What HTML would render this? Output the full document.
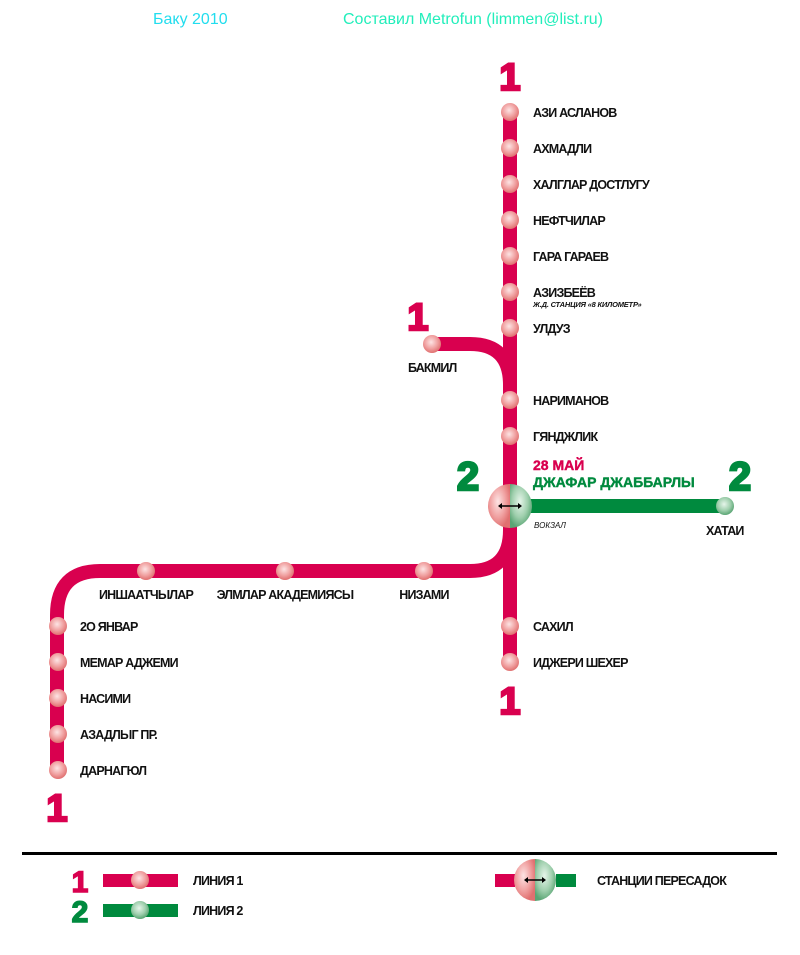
<!DOCTYPE html>
<html><head><meta charset="utf-8"><style>
html,body{margin:0;padding:0;background:#fff;}
svg text{font-family:"Liberation Sans",sans-serif;}
.s{font-size:12.5px;font-weight:bold;fill:#111;letter-spacing:-0.8px;}
</style></head><body>
<svg width="800" height="950" viewBox="0 0 800 950" xmlns="http://www.w3.org/2000/svg">
<defs>
<radialGradient id="rg" cx="0.45" cy="0.4" r="0.6">
<stop offset="0" stop-color="#fde4e4"/><stop offset="0.6" stop-color="#f0a0a0"/><stop offset="1" stop-color="#e07070"/>
</radialGradient>
<radialGradient id="gg" cx="0.45" cy="0.4" r="0.6">
<stop offset="0" stop-color="#e6f5ea"/><stop offset="0.6" stop-color="#9fcfad"/><stop offset="1" stop-color="#5aa574"/>
</radialGradient>
</defs>
<text x="153" y="24" font-size="16" fill="#22ddee">Баку 2010</text>
<text x="343" y="24" font-size="16" fill="#22eebb">Составил Metrofun (limmen@list.ru)</text>

<g fill="none" stroke="#d9004f" stroke-width="14">
<path d="M510 111 V662"/>
<path d="M432 344 H470 Q510 344 510 385 V400"/>
<path d="M510 530 Q510 571 470 571 H100 Q57 571 57 615 V770"/>
</g>
<path d="M520 506 H725" stroke="#008a3e" stroke-width="14"/>

<g>
<circle cx="510" cy="112" r="9" fill="url(#rg)"/>
<circle cx="510" cy="148" r="9" fill="url(#rg)"/>
<circle cx="510" cy="184" r="9" fill="url(#rg)"/>
<circle cx="510" cy="220" r="9" fill="url(#rg)"/>
<circle cx="510" cy="256" r="9" fill="url(#rg)"/>
<circle cx="510" cy="292" r="9" fill="url(#rg)"/>
<circle cx="510" cy="328" r="9" fill="url(#rg)"/>
<circle cx="510" cy="400" r="9" fill="url(#rg)"/>
<circle cx="510" cy="436" r="9" fill="url(#rg)"/>
<circle cx="510" cy="626" r="9" fill="url(#rg)"/>
<circle cx="510" cy="662" r="9" fill="url(#rg)"/>
<circle cx="432" cy="344" r="9" fill="url(#rg)"/>
<circle cx="146" cy="571" r="9" fill="url(#rg)"/>
<circle cx="285" cy="571" r="9" fill="url(#rg)"/>
<circle cx="424" cy="571" r="9" fill="url(#rg)"/>
<circle cx="58" cy="626" r="9" fill="url(#rg)"/>
<circle cx="58" cy="662" r="9" fill="url(#rg)"/>
<circle cx="58" cy="698" r="9" fill="url(#rg)"/>
<circle cx="58" cy="734" r="9" fill="url(#rg)"/>
<circle cx="58" cy="770" r="9" fill="url(#rg)"/>
<circle cx="725" cy="506" r="9" fill="url(#gg)"/>
</g>
<g>
<path d="M510 484 A22 22 0 0 0 510 528 Z" fill="url(#rg)"/>
<path d="M510 484 A22 22 0 0 1 510 528 Z" fill="url(#gg)"/>
<path d="M500 506 H520" stroke="#000" stroke-width="1.5"/>
<path d="M498 506 l4 -3 v6 z M522 506 l-4 -3 v6 z" fill="#000"/>
</g>

<g>
<text class="s" x="533" y="117">АЗИ АСЛАНОВ</text>
<text class="s" x="533" y="153">АХМАДЛИ</text>
<text class="s" x="533" y="189">ХАЛГЛАР ДОСТЛУГУ</text>
<text class="s" x="533" y="225">НЕФТЧИЛАР</text>
<text class="s" x="533" y="261">ГАРА ГАРАЕВ</text>
<text class="s" x="533" y="297">АЗИЗБЕЁВ</text>
<text x="533" y="307" font-size="7.5" font-style="italic" font-weight="bold" fill="#111" letter-spacing="-0.2">Ж.Д. СТАНЦИЯ «8 КИЛОМЕТР»</text>
<text class="s" x="408" y="372">БАКМИЛ</text>
<text class="s" x="533" y="333">УЛДУЗ</text>
<text class="s" x="533" y="405">НАРИМАНОВ</text>
<text class="s" x="533" y="441">ГЯНДЖЛИК</text>
<text x="533" y="470" font-size="14" font-weight="bold" fill="#d9004f" stroke="#d9004f" stroke-width="0.4">28 МАЙ</text>
<text x="533" y="487" font-size="14" font-weight="bold" fill="#008a3e" stroke="#008a3e" stroke-width="0.4">ДЖАФАР ДЖАББАРЛЫ</text>
<text x="534" y="528" font-size="8" font-style="italic" fill="#111">ВОКЗАЛ</text>
<text class="s" x="706" y="535">ХАТАИ</text>
<text class="s" x="533" y="631">САХИЛ</text>
<text class="s" x="533" y="667">ИДЖЕРИ ШЕХЕР</text>
<text class="s" x="146" y="599" text-anchor="middle">ИНШААТЧЫЛАР</text>
<text class="s" x="285" y="599" text-anchor="middle">ЭЛМЛАР АКАДЕМИЯСЫ</text>
<text class="s" x="424" y="599" text-anchor="middle">НИЗАМИ</text>
<text class="s" x="80" y="631">2О ЯНВАР</text>
<text class="s" x="80" y="667">МЕМАР АДЖЕМИ</text>
<text class="s" x="80" y="703">НАСИМИ</text>
<text class="s" x="80" y="739">АЗАДЛЫГ ПР.</text>
<text class="s" x="80" y="775">ДАРНАГЮЛ</text>
</g>

<g font-weight="bold" text-anchor="middle" stroke-width="2.5">
<text x="510" y="90" font-size="38" fill="#d9004f" stroke="#d9004f">1</text>
<text x="418" y="330" font-size="38" fill="#d9004f" stroke="#d9004f">1</text>
<text x="510" y="714" font-size="38" fill="#d9004f" stroke="#d9004f">1</text>
<text x="57" y="821" font-size="38" fill="#d9004f" stroke="#d9004f">1</text>
<text x="468" y="490" font-size="40" fill="#008a3e" stroke="#008a3e">2</text>
<text x="740" y="490" font-size="40" fill="#008a3e" stroke="#008a3e">2</text>
</g>

<rect x="22" y="852" width="755" height="3" fill="#000"/>

<text x="80" y="892" font-size="30" font-weight="bold" fill="#d9004f" stroke="#d9004f" stroke-width="1.5" text-anchor="middle">1</text>
<rect x="103" y="874" width="75" height="13" fill="#d9004f"/>
<circle cx="140" cy="880" r="9" fill="url(#rg)"/>
<text class="s" x="193" y="885">ЛИНИЯ 1</text>
<text x="80" y="922" font-size="30" font-weight="bold" fill="#008a3e" stroke="#008a3e" stroke-width="1.5" text-anchor="middle">2</text>
<rect x="103" y="904" width="75" height="13" fill="#008a3e"/>
<circle cx="140" cy="910" r="9" fill="url(#gg)"/>
<text class="s" x="193" y="915">ЛИНИЯ 2</text>

<rect x="495" y="874" width="20" height="13" fill="#d9004f"/>
<rect x="556" y="874" width="20" height="13" fill="#008a3e"/>
<path d="M535 859 A21 21 0 0 0 535 901 Z" fill="url(#rg)"/>
<path d="M535 859 A21 21 0 0 1 535 901 Z" fill="url(#gg)"/>
<path d="M526 880 H544" stroke="#000" stroke-width="1.5"/>
<path d="M524 880 l4 -3 v6 z M546 880 l-4 -3 v6 z" fill="#000"/>
<text class="s" x="597" y="885">СТАНЦИИ ПЕРЕСАДОК</text>
</svg>
</body></html>
